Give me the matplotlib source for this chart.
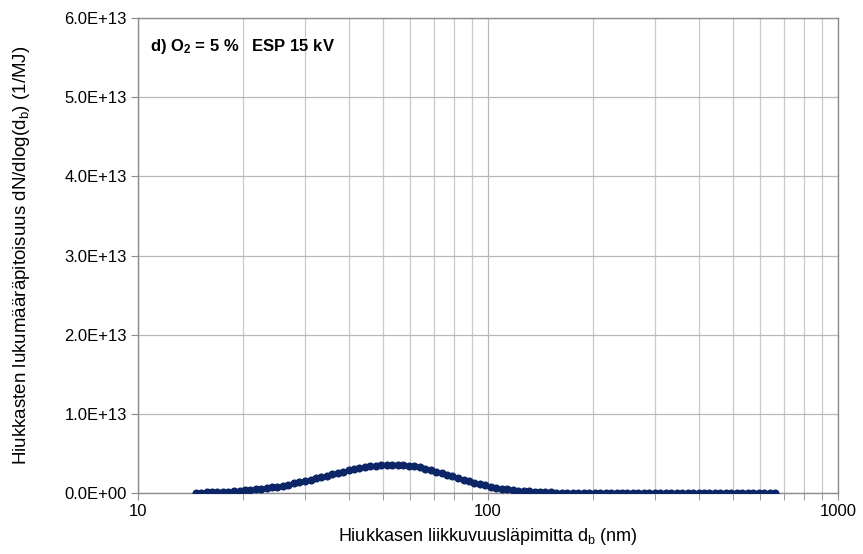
import numpy as np
import matplotlib.pyplot as plt
from matplotlib.ticker import FixedLocator, FuncFormatter, NullFormatter

plt.rcParams['font.family'] = ['Liberation Sans', 'DejaVu Sans']
plt.rcParams['mathtext.fontset'] = 'custom'
plt.rcParams['mathtext.rm'] = 'Liberation Sans'
plt.rcParams['mathtext.it'] = 'Liberation Sans:italic'
plt.rcParams['mathtext.bf'] = 'Liberation Sans:bold'

# particle mobility diameters (nm), SMPS channels
d_b = [14.6, 15.1, 15.7, 16.3, 16.8, 17.5, 18.1, 18.8, 19.5, 20.2, 20.9, 21.7,
       22.5, 23.3, 24.1, 25.0, 25.9, 26.9, 27.9, 28.9, 30.0, 31.1, 32.2, 33.4,
       34.6, 35.9, 37.2, 38.5, 40.0, 41.4, 42.9, 44.5, 46.1, 47.8, 49.6, 51.4,
       53.3, 55.2, 57.3, 59.4, 61.5, 63.8, 66.1, 68.5, 71.0, 73.7, 76.4, 79.1,
       82.0, 85.1, 88.2, 91.4, 94.7, 98.2, 101.8, 105.5, 109.4, 113.4, 117.6,
       121.9, 126.3, 131.0, 135.8, 140.7, 145.9, 151.2, 156.8, 162.5, 168.5,
       174.7, 181.1, 187.7, 194.6, 201.7, 209.1, 216.7, 224.7, 232.9, 241.4,
       250.3, 259.5, 269.0, 278.8, 289.0, 299.6, 310.6, 322.0, 333.8, 346.0,
       358.7, 371.8, 385.4, 399.5, 414.2, 429.4, 445.1, 461.4, 478.3, 495.8,
       514.0, 532.8, 552.3, 572.5, 593.5, 615.3, 637.8, 661.2]

# dN/dlog(d_b) in units of 1e12 1/MJ
dndlog = [0.051, 0.064, 0.081, 0.102, 0.122, 0.154, 0.185, 0.226, 0.273, 0.326,
          0.383, 0.456, 0.535, 0.621, 0.712, 0.822, 0.938, 1.074, 1.214, 1.358,
          1.519, 1.683, 1.845, 2.019, 2.190, 2.368, 2.536, 2.695, 2.864, 3.005,
          3.140, 3.263, 3.364, 3.450, 3.517, 3.559, 3.579, 3.574, 3.534, 3.462,
          3.364, 3.232, 3.080, 2.907, 2.716, 2.506, 2.297, 2.093, 1.883, 1.671,
          1.475, 1.291, 1.120, 0.959, 0.815, 0.686, 0.571, 0.471, 0.385, 0.311,
          0.251, 0.198, 0.156, 0.122, 0.094, 0.072, 0.054, 0.041, 0.033, 0.028,
          0.024, 0.021, 0.019, 0.017, 0.016, 0.015, 0.014, 0.013, 0.012, 0.011,
          0.010, 0.010, 0.009, 0.009, 0.008, 0.008, 0.008, 0.007, 0.007, 0.007,
          0.007, 0.006, 0.006, 0.006, 0.006, 0.006, 0.005, 0.005, 0.005, 0.005,
          0.005, 0.005, 0.005, 0.005, 0.005, 0.005, 0.005]

y_ticks = [0, 1e13, 2e13, 3e13, 4e13, 5e13, 6e13]
x_ticks = [10, 100, 1000]

fig = plt.figure(figsize=(8.63, 5.54), dpi=100)
ax = fig.add_axes([0.160, 0.110, 0.811, 0.8575])

ax.plot(d_b, np.array(dndlog) * 1e12, color='#0b2566', marker='o', markersize=4.8,
        linewidth=1.2, zorder=3)

ax.set_xscale('log')
ax.set_xlim(10, 1000)
ax.set_ylim(0, 6e13)
ax.set_yticks(y_ticks)
ax.yaxis.set_major_formatter(FuncFormatter(lambda v, p: '%.1E' % v))
ax.xaxis.set_major_locator(FixedLocator(x_ticks))
ax.xaxis.set_major_formatter(FuncFormatter(lambda v, p: '%d' % v))
ax.xaxis.set_minor_locator(FixedLocator([k * 10 ** e for e in (1, 2) for k in range(2, 10)]))
ax.xaxis.set_minor_formatter(NullFormatter())

ax.grid(True, which='major', color='#b8b8b8', linewidth=0.9)
ax.grid(True, which='minor', axis='x', color='#c8c8c8', linewidth=0.9)
ax.set_axisbelow(True)
for s in ax.spines.values():
    s.set_color('#8c8c8c')
    s.set_linewidth(1.0)
ax.tick_params(which='both', direction='out', color='#8c8c8c', length=5,
               labelsize=12, pad=3)

ax.set_xlabel('Hiukkasen liikkuvuusläpimitta d$_\\mathrm{b}$ (nm)', fontsize=13)
ax.set_ylabel('Hiukkasten lukumääräpitoisuus dN/dlog(d$_\\mathrm{b}$) (1/MJ)', fontsize=13.5)
ax.xaxis.set_label_coords(0.5, -0.07)
ax.yaxis.set_label_coords(-0.151, 0.5)

ax.text(0.017, 0.941, 'd) O$_\\mathbf{2}$ = 5 %   ESP 15 kV', transform=ax.transAxes,
        fontsize=12, fontweight='bold', va='center', ha='left')

fig.savefig('out.png', dpi=100)
